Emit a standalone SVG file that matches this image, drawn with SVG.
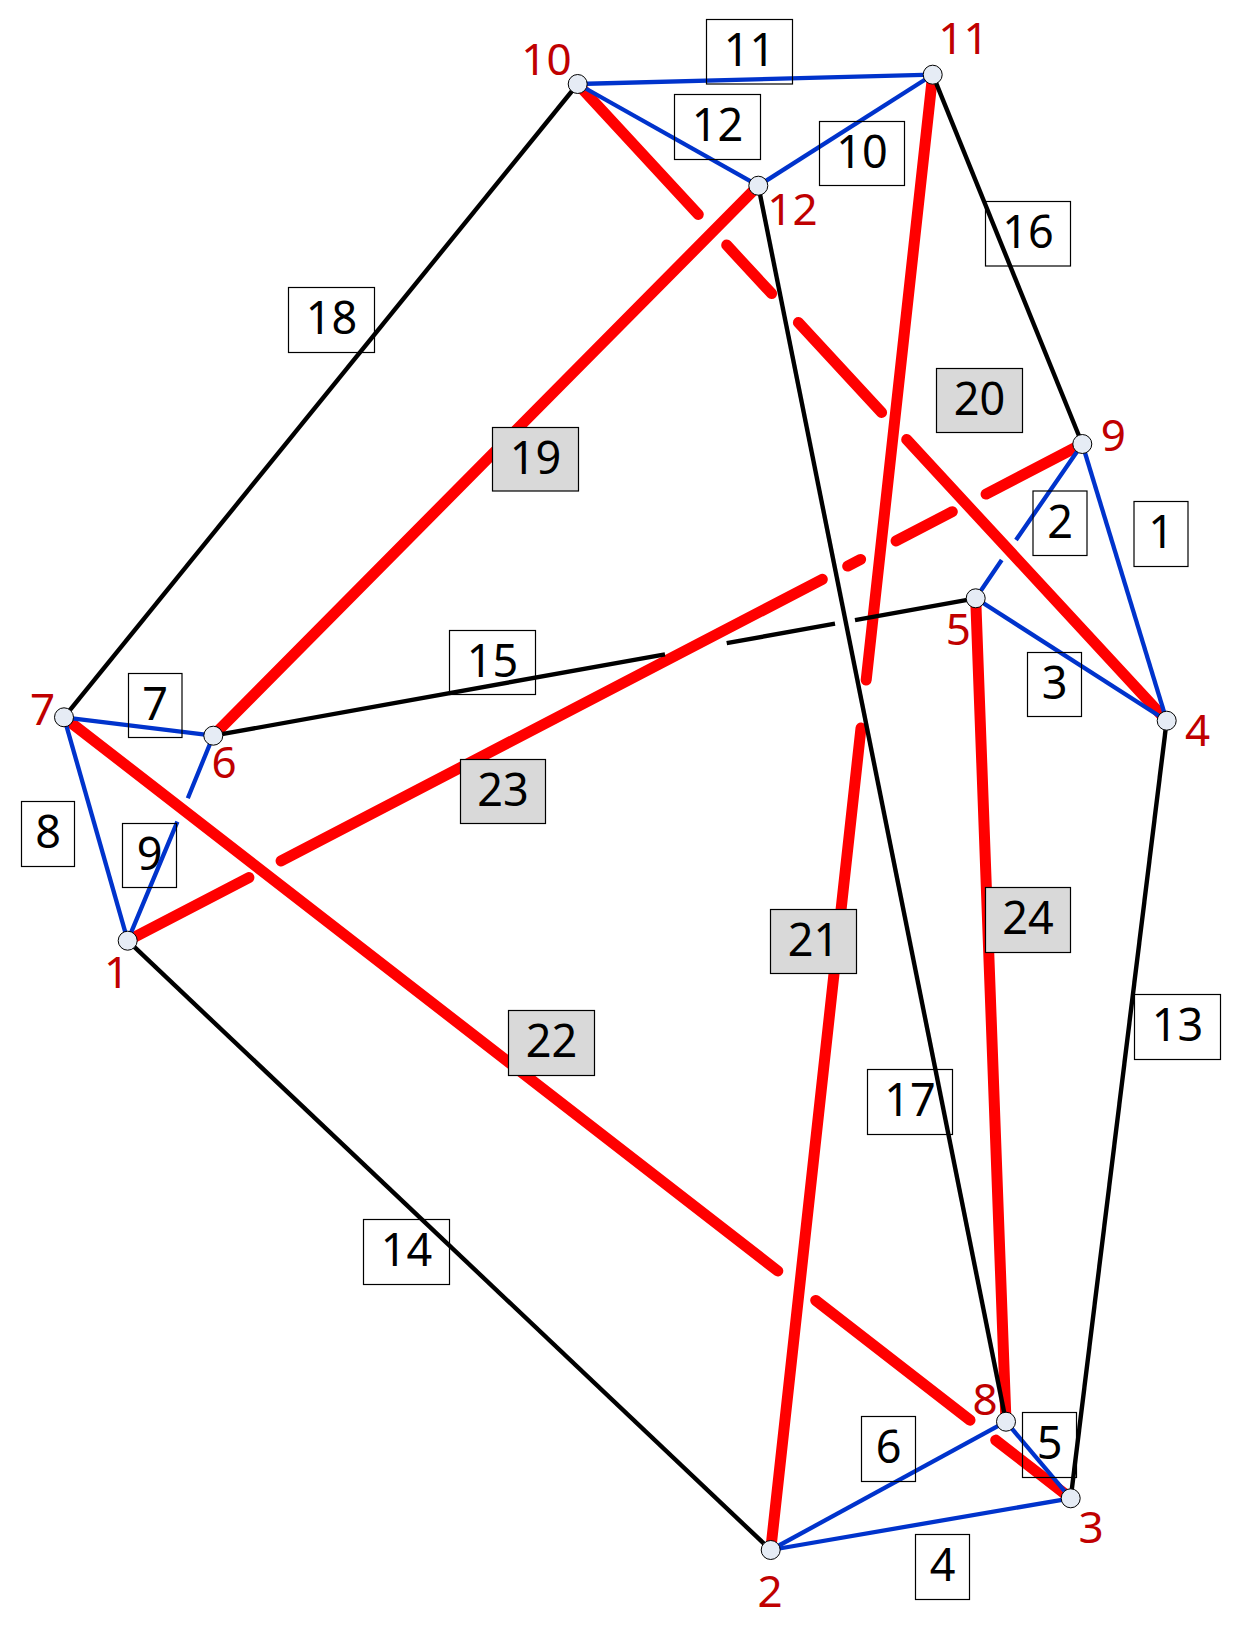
<svg xmlns="http://www.w3.org/2000/svg" width="1241" height="1630" viewBox="0 0 1241 1630">
<style>
.r{stroke:#ff0000;stroke-width:11;stroke-linecap:round;fill:none}
.k{stroke:#000;stroke-width:4.4;fill:none}
.b{stroke:#0033cc;stroke-width:4.3;fill:none}
.n circle{fill:#e6ecf5;stroke:#000;stroke-width:1}
.n text{fill:#c00000;font-family:'Noto Sans','Open Sans',sans-serif;font-size:44px;text-anchor:middle}
.w{fill:none;stroke:#000;stroke-width:1.2}
.g{fill:#d9d9d9;stroke:#000;stroke-width:1.2}
.t{fill:#000;font-family:'Noto Sans','Open Sans',sans-serif;font-size:45px;text-anchor:middle}
</style>
<rect width="1241" height="1630" fill="#fff"/>
<g id="connectors">
<line class="r" x1="213.3" y1="735.7" x2="758.3" y2="185.7"/>
<path class="r" d="M577.7,84L698.3,214.4M726.7,245.1L771.6,293.6M798.4,322.6L881.6,412.5M906.7,439.6L1166.7,720.7"/>
<path class="r" d="M770.7,1550L861,728M866.2,680L932.7,74.7"/>
<path class="r" d="M64,717.3L777.8,1271M815.7,1300.4L970,1420.2M995.7,1440.1L1070.7,1498.3"/>
<path class="r" d="M127.7,940.7L248.9,877.6M281.1,860.9L822.3,579.3M847.7,566.1L860.6,559.4M896.1,540.9L952.3,511.7M986.1,494.1L1082.3,444"/>
<line class="r" x1="975.7" y1="598.3" x2="1006" y2="1421.7"/>
<line class="k" x1="1166.7" y1="720.7" x2="1070.7" y2="1498.3"/>
<line class="k" x1="127.7" y1="940.7" x2="770.7" y2="1550"/>
<path class="k" d="M213.3,735.7L665,654.3M726.7,643.2L835,623.7M855,620.1L975.7,598.3"/>
<line class="k" x1="932.7" y1="74.7" x2="1082.3" y2="444"/>
<line class="k" x1="758.3" y1="185.7" x2="1006" y2="1421.7"/>
<line class="k" x1="577.7" y1="84" x2="64" y2="717.3"/>
<line class="b" x1="1082.3" y1="444" x2="1166.7" y2="720.7"/>
<path class="b" d="M1082.3,444L1016,540M1001.7,560L975.7,598.3"/>
<line class="b" x1="975.7" y1="598.3" x2="1166.7" y2="720.7"/>
<line class="b" x1="770.7" y1="1550" x2="1070.7" y2="1498.3"/>
<line class="b" x1="1006" y1="1421.7" x2="1070.7" y2="1498.3"/>
<line class="b" x1="770.7" y1="1550" x2="1006" y2="1421.7"/>
<line class="b" x1="64" y1="717.3" x2="213.3" y2="735.7"/>
<line class="b" x1="64" y1="717.3" x2="127.7" y2="940.7"/>
<path class="b" d="M213.3,735.7L187.8,798.3M177.4,821.7L127.7,940.7"/>
<line class="b" x1="758.3" y1="185.7" x2="932.7" y2="74.7"/>
<line class="b" x1="577.7" y1="84" x2="932.7" y2="74.7"/>
<line class="b" x1="577.7" y1="84" x2="758.3" y2="185.7"/>
</g>
<g id="edge-labels">
<g><rect class="w" x="1134" y="501.5" width="54" height="65"/><text class="t" x="1161" y="548">1</text></g>
<g><rect class="w" x="1033" y="491" width="54" height="64.5"/><text class="t" x="1060" y="537.5">2</text></g>
<g><rect class="w" x="1027.5" y="652.5" width="54" height="64"/><text class="t" x="1054.5" y="699">3</text></g>
<g><rect class="w" x="915.5" y="1534.5" width="54" height="65"/><text class="t" x="942.5" y="1581">4</text></g>
<g><rect class="w" x="1022.5" y="1412.5" width="54" height="65"/><text class="t" x="1049.5" y="1459">5</text></g>
<g><rect class="w" x="861.5" y="1416.5" width="54" height="65"/><text class="t" x="888.5" y="1463">6</text></g>
<g><rect class="w" x="128.5" y="673.5" width="53.5" height="64"/><text class="t" x="155.2" y="720">7</text></g>
<g><rect class="w" x="21.5" y="801.5" width="53" height="65"/><text class="t" x="48" y="848">8</text></g>
<g><rect class="w" x="122.5" y="823.5" width="54" height="64"/><text class="t" x="149.5" y="870">9</text></g>
<g><rect class="w" x="819.5" y="121.5" width="85" height="64"/><text class="t" x="862" y="168">10</text></g>
<g><rect class="w" x="706.5" y="19.5" width="86" height="64.5"/><text class="t" x="749.5" y="66">11</text></g>
<g><rect class="w" x="674.5" y="94.5" width="86" height="65"/><text class="t" x="717.5" y="141">12</text></g>
<g><rect class="w" x="1134.5" y="994.5" width="86" height="65"/><text class="t" x="1177.5" y="1041">13</text></g>
<g><rect class="w" x="363.5" y="1219.5" width="86" height="65"/><text class="t" x="406.5" y="1266">14</text></g>
<g><rect class="w" x="449.5" y="630.5" width="86" height="64"/><text class="t" x="492.5" y="677">15</text></g>
<g><rect class="w" x="985.5" y="201.5" width="85" height="64.5"/><text class="t" x="1028" y="248">16</text></g>
<g><rect class="w" x="867.5" y="1069.5" width="85" height="65"/><text class="t" x="910" y="1116">17</text></g>
<g><rect class="w" x="288.5" y="287.5" width="86" height="65"/><text class="t" x="331.5" y="334">18</text></g>
<g><rect class="g" x="492.5" y="427.5" width="86" height="63.5"/><text class="t" x="535.5" y="474">19</text></g>
<g><rect class="g" x="936.5" y="368.5" width="86" height="64"/><text class="t" x="979.5" y="415">20</text></g>
<g><rect class="g" x="770.5" y="909.5" width="86" height="64"/><text class="t" x="813.5" y="956">21</text></g>
<g><rect class="g" x="508.5" y="1010.5" width="86" height="65"/><text class="t" x="551.5" y="1057">22</text></g>
<g><rect class="g" x="460.5" y="759.5" width="85" height="64"/><text class="t" x="503" y="806">23</text></g>
<g><rect class="g" x="985.5" y="887.5" width="85" height="65"/><text class="t" x="1028" y="934">24</text></g>
</g>
<g id="node1" class="n"><circle cx="127.7" cy="940.7" r="9.5"/><text x="116.5" y="988">1</text></g>
<g id="node2" class="n"><circle cx="770.7" cy="1550" r="9.5"/><text x="770" y="1607">2</text></g>
<g id="node3" class="n"><circle cx="1070.7" cy="1498.3" r="9.5"/><text x="1091" y="1543">3</text></g>
<g id="node4" class="n"><circle cx="1166.7" cy="720.7" r="9.5"/><text x="1197.5" y="746">4</text></g>
<g id="node5" class="n"><circle cx="975.7" cy="598.3" r="9.5"/><text x="958.3" y="645">5</text></g>
<g id="node6" class="n"><circle cx="213.3" cy="735.7" r="9.5"/><text x="224" y="778">6</text></g>
<g id="node7" class="n"><circle cx="64" cy="717.3" r="9.5"/><text x="42.5" y="725">7</text></g>
<g id="node8" class="n"><circle cx="1006" cy="1421.7" r="9.5"/><text x="985" y="1415">8</text></g>
<g id="node9" class="n"><circle cx="1082.3" cy="444" r="9.5"/><text x="1113.3" y="451">9</text></g>
<g id="node10" class="n"><circle cx="577.7" cy="84" r="9.5"/><text x="546.5" y="75">10</text></g>
<g id="node11" class="n"><circle cx="932.7" cy="74.7" r="9.5"/><text x="963.5" y="54">11</text></g>
<g id="node12" class="n"><circle cx="758.3" cy="185.7" r="9.5"/><text x="792.5" y="225">12</text></g>
</svg>
